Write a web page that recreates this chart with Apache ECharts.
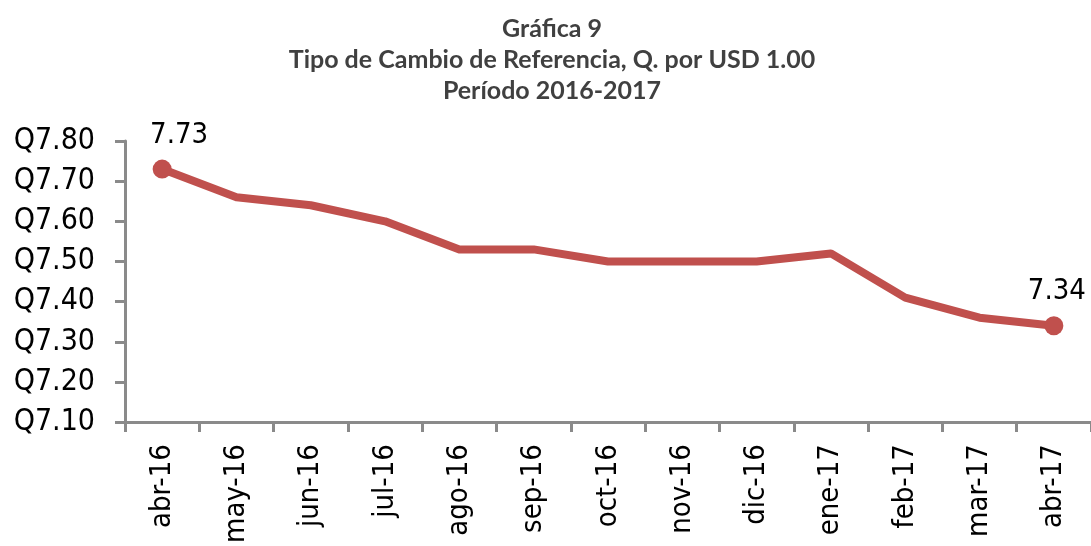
<!DOCTYPE html>
<html>
<head>
<meta charset="utf-8">
<script src="https://cdn.jsdelivr.net/npm/echarts@6/dist/echarts.min.js"></script>
<style>html,body{margin:0;padding:0;background:#fff}#c{width:1091px;height:546px}</style>
</head>
<body>
<div id="c"></div>
<script>
const titleLines = ['Gráfica 9', 'Tipo de Cambio de Referencia, Q. por USD 1.00', 'Período 2016-2017'];
const categories = ['abr-16','may-16','jun-16','jul-16','ago-16','sep-16','oct-16','nov-16','dic-16','ene-17','feb-17','mar-17','abr-17'];
const values = [7.73, 7.66, 7.64, 7.60, 7.53, 7.53, 7.50, 7.50, 7.50, 7.52, 7.41, 7.36, 7.34];
const yMin = 7.1, yMax = 7.8, yInterval = 0.1;

const last = values.length - 1;
const seriesData = values.map((v, i) => {
  const ends = (i === 0 || i === last);
  return {
    value: v,
    symbol: ends ? 'circle' : 'none',
    label: {
      show: ends,
      offset: i === 0 ? [17, 0] : [3, 0]
    }
  };
});

const chart = echarts.init(document.getElementById('c'));
chart.setOption({
  animation: false,
  backgroundColor: '#ffffff',
  title: {
    text: titleLines.join('\n'),
    left: 552,
    textAlign: 'center',
    top: 13,
    padding: 0,
    textStyle: {
      fontFamily: 'Lato',
      fontWeight: 'bold',
      fontSize: 25,
      lineHeight: 31,
      color: '#404040',
      align: 'center'
    }
  },
  grid: { left: 125, top: 141, width: 970, height: 284, containLabel: false },
  xAxis: {
    type: 'category',
    data: categories,
    boundaryGap: true,
    axisLine: { lineStyle: { color: '#8a8a8a', width: 3 } },
    axisTick: { show: true, length: 10, lineStyle: { color: '#8a8a8a', width: 3 } },
    axisLabel: {
      rotate: 90,
      interval: 0,
      margin: 22,
      fontFamily: 'DejaVu Sans Condensed',
      fontSize: 29,
      color: '#000000'
    }
  },
  yAxis: {
    type: 'value',
    min: yMin,
    max: yMax,
    interval: yInterval,
    splitLine: { show: false },
    axisLine: { show: true, lineStyle: { color: '#8a8a8a', width: 3 } },
    axisTick: { show: true, length: 10, lineStyle: { color: '#8a8a8a', width: 3 } },
    axisLabel: {
      margin: 30,
      fontFamily: 'DejaVu Sans Condensed',
      fontSize: 30,
      color: '#000000',
      formatter: v => 'Q' + v.toFixed(2)
    }
  },
  series: [{
    type: 'line',
    data: seriesData,
    symbolSize: 19,
    showAllSymbol: true,
    itemStyle: { color: '#C0504D' },
    lineStyle: { color: '#C0504D', width: 8, join: 'round' },
    label: {
      position: 'top',
      distance: 10,
      fontFamily: 'DejaVu Sans Condensed',
      fontSize: 29,
      color: '#000000',
      formatter: p => p.value.toFixed(2)
    },
    clip: false
  }]
});
</script>
</body>
</html>
